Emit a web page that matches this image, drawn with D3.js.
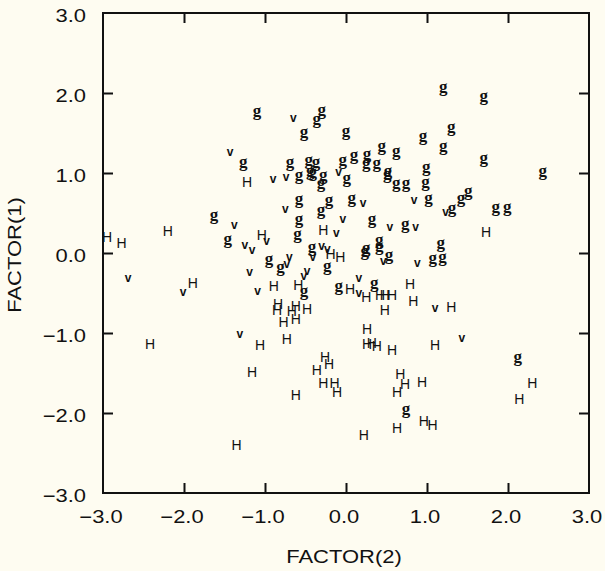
<!DOCTYPE html>
<html>
<head>
<meta charset="utf-8">
<script src="https://cdn.jsdelivr.net/npm/d3@7"></script>
<style>
body { margin: 0; background: #fefcf1; }
</style>
</head>
<body>
<script>
// group "g" : [FACTOR(2), FACTOR(1)]
var gPoints = [
	[-1.10,1.75],[-0.30,1.76],[-0.36,1.64],[-0.52,1.48],[0.00,1.50],[0.44,1.31],
	[-1.27,1.11],[-0.69,1.11],[-0.46,1.13],[-0.37,1.11],[-0.04,1.13],[0.10,1.19],
	[0.26,1.21],[0.25,1.10],[0.38,1.10],[-0.44,1.00],[-0.41,0.98],[-0.58,0.94],
	[-0.28,0.94],[-0.31,0.85],[0.01,0.91],[0.52,1.00],[0.51,0.96],[0.62,1.24],
	[0.62,0.84],[0.74,0.84],[0.99,1.04],[0.98,0.86],[1.20,1.31],[0.95,1.43],
	[1.20,2.05],[1.70,1.93],[1.30,1.54],[1.70,1.16],[2.43,1.00],[-0.58,0.64],
	[-0.21,0.63],[-0.31,0.51],[0.07,0.66],[1.02,0.66],[1.31,0.53],[1.42,0.66],
	[1.51,0.75],[1.85,0.54],[1.99,0.55],[-1.63,0.44],[-0.58,0.39],[0.32,0.40],
	[0.73,0.33],[-1.46,0.15],[-0.60,0.21],[0.41,0.13],[0.41,0.06],[1.17,0.09],
	[-0.42,0.04],[0.25,0.03],[0.23,-0.01],[0.53,-0.06],[1.07,-0.09],[1.19,-0.08],
	[-0.95,-0.10],[-0.81,-0.20],[-0.23,-0.19],[-0.52,-0.50],[-0.09,-0.44],[0.35,-0.40],
	[2.12,-1.33],[0.74,-1.98]
];
// group "v"
var vPoints = [
	[-0.65,1.68],[-1.43,1.25],[-0.74,0.94],[-0.90,0.91],[-0.09,1.00],[0.21,0.61],
	[-0.75,0.54],[0.84,0.65],[1.23,0.50],[-1.38,0.34],[-0.04,0.41],[-0.12,0.24],
	[0.54,0.31],[0.86,0.31],[-0.98,0.14],[-1.25,0.09],[-1.16,0.03],[-0.30,0.08],
	[-0.23,0.04],[0.46,-0.11],[0.88,-0.14],[-0.41,-0.06],[-0.70,-0.06],[-0.73,-0.15],
	[-1.19,-0.25],[-0.48,-0.24],[-0.52,-0.30],[0.16,-0.33],[0.16,-0.51],[-1.09,-0.49],
	[-1.31,-1.03],[1.10,-0.70],[1.43,-1.08],[-2.69,-0.33],[-2.01,-0.50]
];
// group "H"
var hPoints = [
	[-2.95,0.20],[-2.77,0.13],[-2.20,0.28],[-1.89,-0.38],[-2.42,-1.14],[-1.22,0.89],
	[-1.04,0.23],[-0.28,0.29],[-0.19,-0.01],[-0.07,-0.05],[-0.89,-0.41],[-0.59,-0.40],
	[0.05,-0.45],[0.25,-0.55],[0.42,-0.53],[0.48,-0.53],[0.57,-0.53],[0.48,-0.71],
	[0.79,-0.39],[0.83,-0.60],[1.30,-0.68],[1.73,0.26],[-0.84,-0.64],[-0.85,-0.71],
	[-0.62,-0.66],[-0.67,-0.73],[-0.48,-0.70],[-0.77,-0.86],[-0.62,-0.83],[-0.73,-1.08],
	[-1.06,-1.15],[0.26,-0.95],[0.26,-1.14],[0.32,-1.13],[0.38,-1.16],[0.57,-1.21],
	[1.10,-1.15],[-1.16,-1.49],[-0.26,-1.30],[-0.21,-1.39],[-0.36,-1.46],[-0.28,-1.63],
	[-0.14,-1.63],[-0.11,-1.74],[-0.62,-1.78],[-1.35,-2.40],[0.22,-2.28],[0.67,-1.51],
	[0.73,-1.64],[0.63,-1.74],[0.94,-1.61],[2.30,-1.63],[2.14,-1.83],[0.63,-2.19],
	[0.96,-2.10],[1.07,-2.15]
];
var xTicks = [-3, -2, -1, 0, 1, 2, 3];
var yTicks = [-3, -2, -1, 0, 1, 2, 3];
var innerTicks = [-2, -1, 0, 1, 2];

var width = 605, height = 571;
var margin = {left: 103, top: 13, right: 16, bottom: 78};
var fmt = d3.format(".1f");
var labelFont = "'Liberation Sans', Arial, sans-serif";

var svg = d3.select("body")
	.append("svg")
	.attr("width", width)
	.attr("height", height);

svg.append("rect")
	.attr("width", width)
	.attr("height", height)
	.attr("fill", "#fefcf1");

var x = d3.scaleLinear().domain([-3, 3]).range([margin.left, width - margin.right]);
var y = d3.scaleLinear().domain([-3, 3]).range([height - margin.bottom, margin.top]);

// ticks on all four sides, pointing inward
function addAxis(axis, tx, ty) {
	var g = svg.append("g")
		.attr("transform", "translate(" + tx + "," + ty + ")")
		.call(axis.tickValues(innerTicks).tickSize(-10).tickFormat(""));
	g.select(".domain").remove();
	g.selectAll("line").attr("stroke", "#111").attr("stroke-width", 2);
}
addAxis(d3.axisBottom(x), 0, y(-3));
addAxis(d3.axisTop(x), 0, y(3));
addAxis(d3.axisLeft(y), x(-3), 0);
addAxis(d3.axisRight(y), x(3), 0);

svg.append("rect")
	.attr("x", x(-3))
	.attr("y", y(3))
	.attr("width", x(3) - x(-3))
	.attr("height", y(-3) - y(3))
	.attr("fill", "none")
	.attr("stroke", "#111")
	.attr("stroke-width", 2);

// tick labels (wide font -> stretch horizontally)
svg.append("g").selectAll("text")
	.data(xTicks)
	.enter().append("text")
	.attr("transform", function(d) { return "translate(" + (x(d) - 2) + "," + (y(-3) + 30) + ") scale(1.22,1)"; })
	.attr("text-anchor", "middle")
	.attr("font-family", labelFont)
	.attr("font-size", 18)
	.attr("fill", "#111")
	.text(function(d) { return fmt(d); });

svg.append("g").selectAll("text")
	.data(yTicks)
	.enter().append("text")
	.attr("transform", function(d) { return "translate(86," + (y(d) + 8.5) + ") scale(1.22,1)"; })
	.attr("text-anchor", "end")
	.attr("font-family", labelFont)
	.attr("font-size", 18)
	.attr("fill", "#111")
	.text(function(d) { return fmt(d); });

svg.append("text")
	.attr("transform", "translate(344,563) scale(1.22,1)")
	.attr("text-anchor", "middle")
	.attr("font-family", labelFont)
	.attr("font-size", 18)
	.attr("fill", "#111")
	.text("FACTOR(2)");

svg.append("text")
	.attr("transform", "translate(21,255) rotate(-90) scale(1.22,1)")
	.attr("text-anchor", "middle")
	.attr("font-family", labelFont)
	.attr("font-size", 18)
	.attr("fill", "#111")
	.text("FACTOR(1)");

// the points are drawn as letters
function drawGroup(data, ch, font, size, weight, dy) {
	svg.append("g").selectAll("text")
		.data(data)
		.enter().append("text")
		.attr("x", function(d) { return x(d[0]); })
		.attr("y", function(d) { return y(d[1]) + dy; })
		.attr("text-anchor", "middle")
		.attr("font-family", font)
		.attr("font-size", size)
		.attr("font-weight", weight)
		.attr("fill", "#111")
		.text(ch);
}
drawGroup(hPoints, "H", labelFont, 14, "normal", 5);
drawGroup(vPoints, "v", labelFont, 12, "bold", 3);
drawGroup(gPoints, "g", "'Liberation Serif', serif", 17, "bold", 2.5);
</script>
</body>
</html>
